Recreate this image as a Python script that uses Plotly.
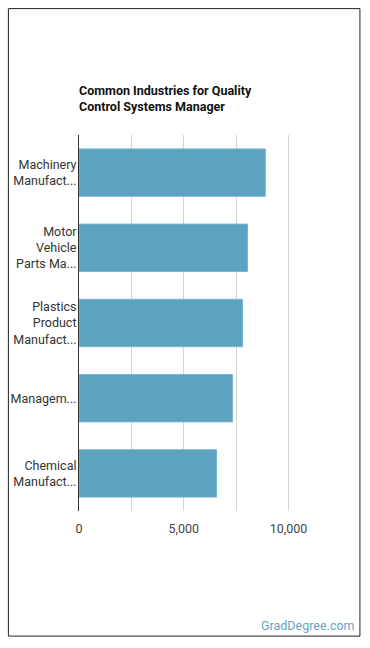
import plotly.graph_objects as go

categories = ["Machinery<br>Manufact...", "Motor<br>Vehicle<br>Parts Ma...", "Plastics<br>Product<br>Manufact...",
              "Managem...", "Chemical<br>Manufact..."]
values = [8890, 8040, 7800, 7320, 6560]
tick_vals = [0, 2500, 5000, 7500, 10000]
tick_text = ["0", "", "5,000", "", "10,000"]

W, H = 370, 648
L, R, T, B = 79, 340.6, 135, 511.3

def px(x):
    return (x - L) / (R - L)

def py(y):
    return (B - y) / (B - T)

fig = go.Figure(go.Bar(
    x=values, y=categories, orientation="h",
    marker=dict(color="#5ba3c1", line=dict(color="#79b5ce", width=1)),
    hoverinfo="skip",
))

fig.update_layout(
    template="none",
    width=W, height=H,
    margin=dict(l=L, r=W - R, t=T, b=H - B, pad=0, autoexpand=False),
    paper_bgcolor="white", plot_bgcolor="white",
    showlegend=False, bargap=0.37,
    font=dict(family="Roboto", size=12.5, color="#333"),
    xaxis=dict(range=[0, 12500], tickvals=tick_vals, ticktext=tick_text, automargin=False,
               showgrid=True, gridcolor="#d4d4d4", gridwidth=1, zeroline=False,
               showline=False, ticks="", ticklabelstandoff=8, tickfont=dict(size=12.5, color="#444"),
               fixedrange=True),
    yaxis=dict(autorange="reversed", showline=True, linecolor="#333", linewidth=1, automargin=False,
               showgrid=False, zeroline=False,
               ticks="", ticklabelstandoff=-1, tickfont=dict(size=12.5, color="#333"),
               fixedrange=True),
    shapes=[dict(type="rect", xref="paper", yref="paper",
                 x0=px(8.5), x1=px(359.5), y0=py(8.5), y1=py(636.5),
                 line=dict(color="#222", width=1), fillcolor="rgba(0,0,0,0)", layer="below")],
    annotations=[
        dict(text="<b>Common Industries for Quality<br>Control Systems Manager</b>",
             xref="paper", yref="paper", x=px(77.5), y=py(81), xanchor="left", yanchor="top",
             align="left", showarrow=False, font=dict(family="Roboto", size=12.5, color="#111")),
        dict(text="GradDegree.com", xref="paper", yref="paper", x=px(357), y=py(626),
             xanchor="right", yanchor="middle", showarrow=False,
             font=dict(family="Roboto", size=12.5, color="#6aa3c3")),
    ],
)

fig.write_html("out.html")
